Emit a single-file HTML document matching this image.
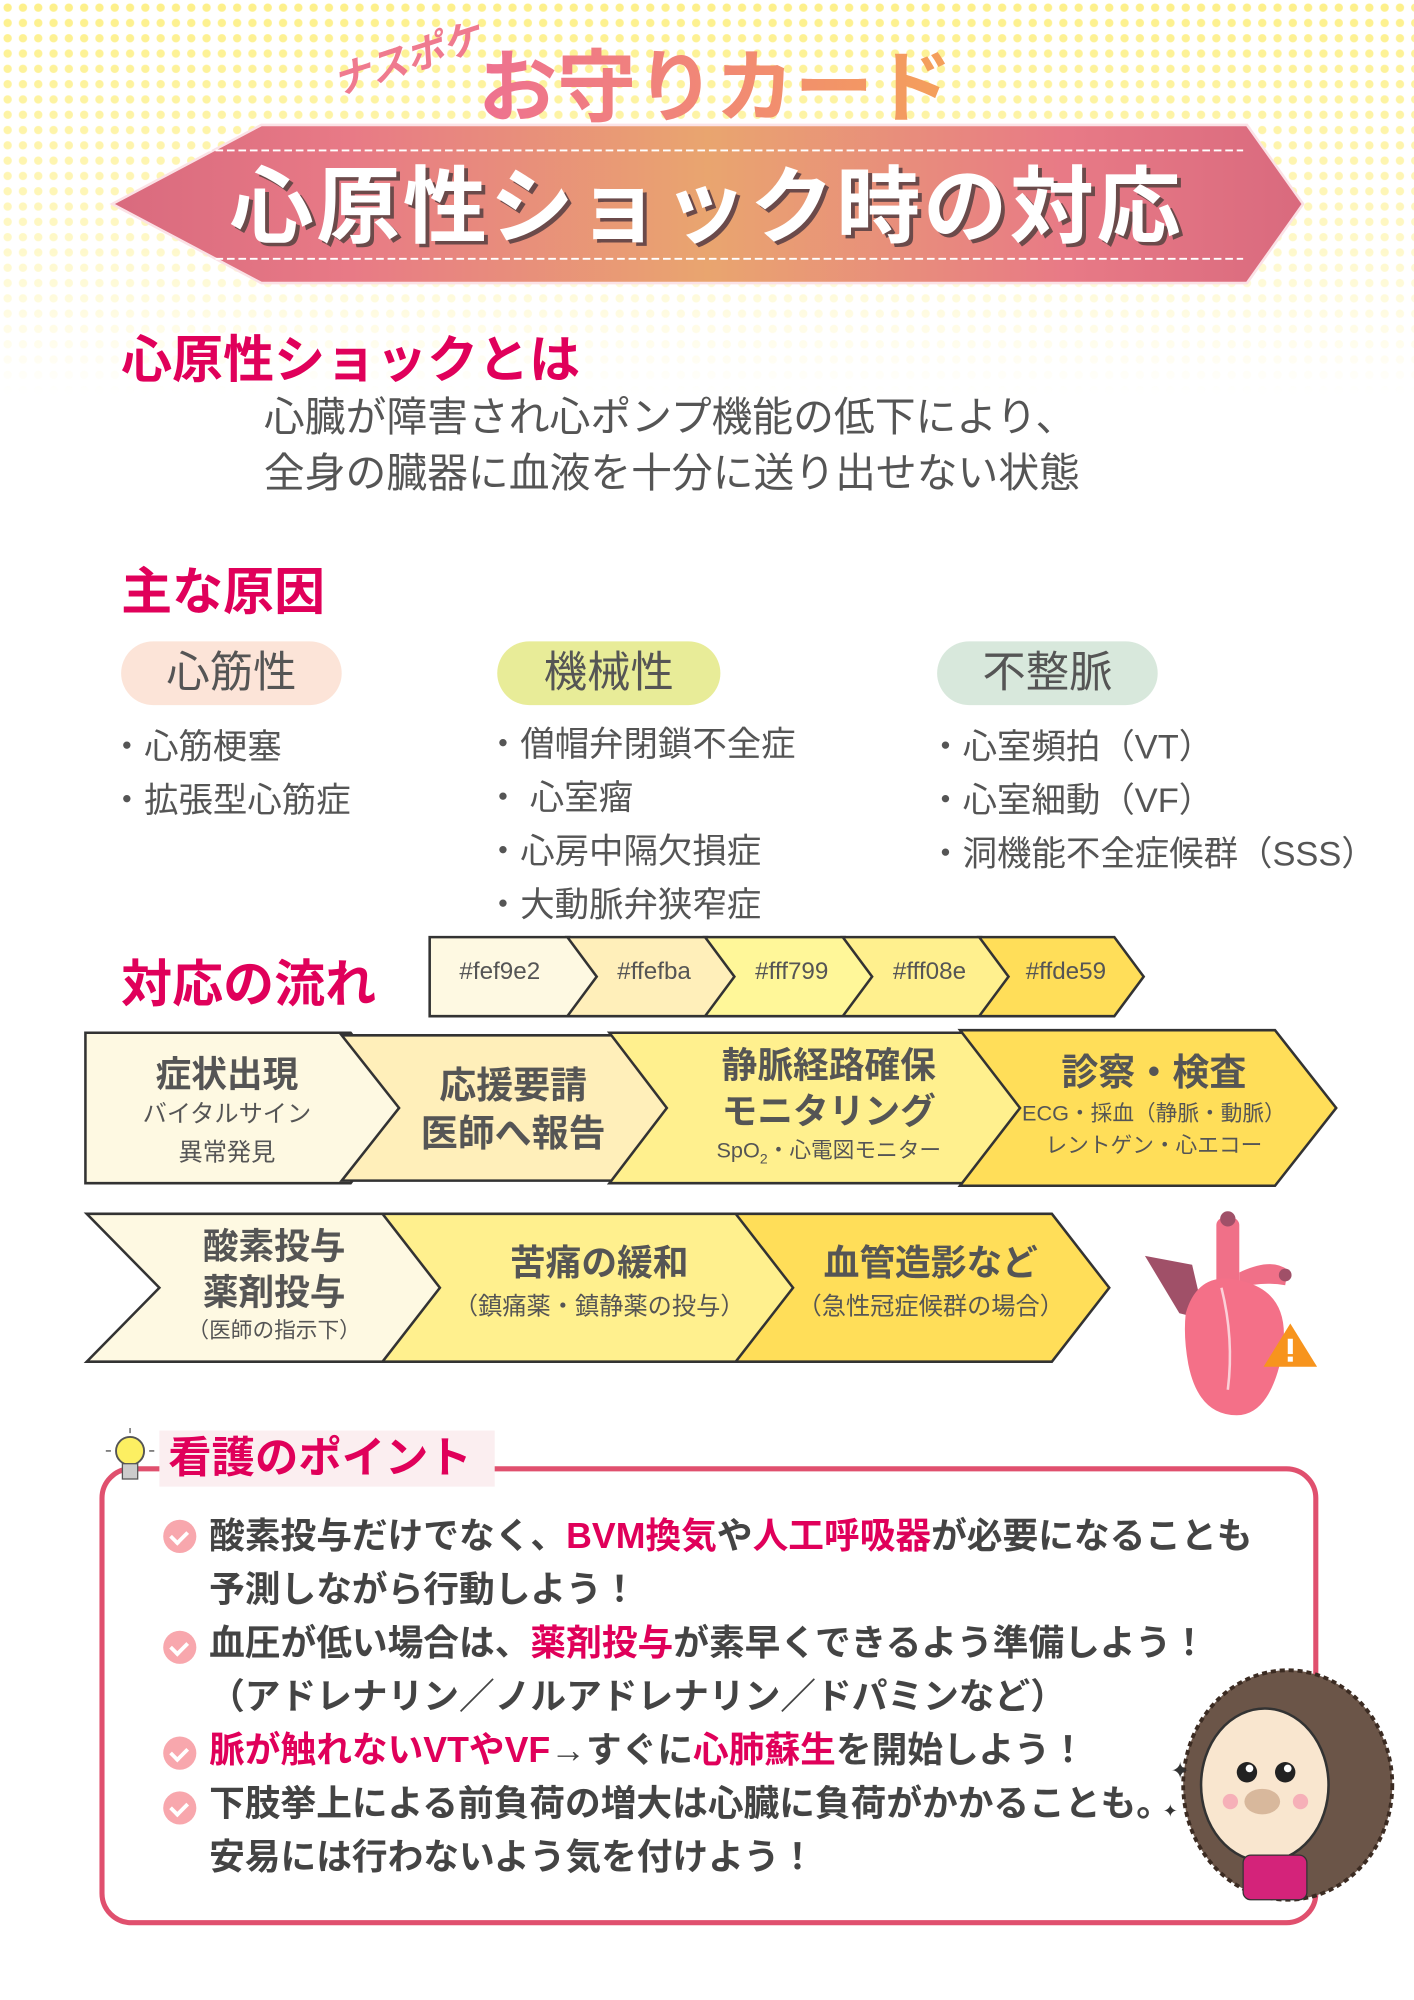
<!DOCTYPE html>
<html><head><meta charset="utf-8"><style>
html,body{margin:0;padding:0;}
body{width:1414px;height:2000px;overflow:hidden;background:#fff;position:relative;font-family:"Liberation Sans","Noto Sans CJK JP",sans-serif;}
#s{position:absolute;left:0;top:0;width:1109px;height:1568px;transform:scale(1.275);transform-origin:0 0;}
.a{position:absolute;white-space:nowrap;}
.dots{position:absolute;left:0;top:0;width:1109px;height:310px;background-image:radial-gradient(circle,#fdf08a 3px,transparent 3.5px);background-size:12px 12px;-webkit-mask-image:linear-gradient(#000 0%,rgba(0,0,0,.6) 50%,transparent 100%);mask-image:linear-gradient(#000 0%,rgba(0,0,0,.6) 50%,transparent 100%);}
.h{color:#e0005a;font-weight:bold;}
.g{color:#555;}
.pill{position:absolute;height:50px;border-radius:25px;font-size:34px;color:#555;text-align:center;line-height:50px;}
.li{font-size:27px;color:#555;}
.pk{color:#e0005a;}
.np{font-size:28px;font-weight:bold;color:#444;}
.chk{position:absolute;width:26px;height:26px;border-radius:50%;background:#f8a7ad;}
.chk:after{content:"";position:absolute;left:8px;top:6px;width:6px;height:10px;border:solid #fff;border-width:0 3px 3px 0;transform:rotate(45deg);}
.ct{font-weight:bold;color:#555;text-align:center;}
</style></head><body><div id="s">
<div class="dots"></div>

<div class="a" style="left:258px;top:22px;font-size:30px;font-weight:bold;color:#ef7a8f;transform:rotate(-18deg);font-style:italic;">ナスポケ</div>
<div class="a" style="left:375px;top:32px;font-size:62px;font-weight:bold;line-height:76px;background:linear-gradient(90deg,#ee7190,#f4a05a);-webkit-background-clip:text;background-clip:text;color:transparent;">お守りカード</div>

<svg class="a" style="left:0;top:0" width="1109" height="240">
<defs><linearGradient id="bg" x1="0" x2="1"><stop offset="0" stop-color="#d96a7e"/><stop offset=".2" stop-color="#e87a86"/><stop offset=".5" stop-color="#e9a56f"/><stop offset=".8" stop-color="#e87a86"/><stop offset="1" stop-color="#d96a7e"/></linearGradient></defs>
<polygon points="88,160 205,98 978,98 1022,160 978,222 205,222" fill="url(#bg)" stroke="#fbe2e6" stroke-width="2"/>
<line x1="160" y1="118" x2="975" y2="118" stroke="#fff" stroke-width="1.5" stroke-dasharray="6,3"/>
<line x1="160" y1="203" x2="975" y2="203" stroke="#fff" stroke-width="1.5" stroke-dasharray="6,3"/>
</svg>
<div class="a" style="left:180px;top:122px;font-size:66px;font-weight:bold;color:#fff;line-height:80px;letter-spacing:2px;text-shadow:3px 3px 0 #6b4a4a;">心原性ショック時の対応</div>

<div class="a h" style="left:95px;top:250px;font-size:40px;">心原性ショックとは</div>
<div class="a g" style="left:207px;top:305px;font-size:32px;line-height:44px;">心臓が障害され心ポンプ機能の低下により、<br>全身の臓器に血液を十分に送り出せない状態</div>

<div class="a h" style="left:95px;top:432px;font-size:40px;">主な原因</div>
<div class="pill" style="left:95px;top:503px;width:173px;background:#fce4d8;">心筋性</div>
<div class="pill" style="left:390px;top:503px;width:175px;background:#e8ec98;">機械性</div>
<div class="pill" style="left:735px;top:503px;width:173px;background:#d8e8dc;">不整脈</div>
<div class="a li" style="left:86px;top:565px;line-height:42px;">・心筋梗塞<br>・拡張型心筋症</div>
<div class="a li" style="left:381px;top:563px;line-height:42px;">・僧帽弁閉鎖不全症<br>・ 心室瘤<br>・心房中隔欠損症<br>・大動脈弁狭窄症</div>
<div class="a li" style="left:728px;top:565px;line-height:42px;">・心室頻拍（VT）<br>・心室細動（VF）<br>・洞機能不全症候群（SSS）</div>

<div class="a h" style="left:95px;top:740px;font-size:40px;">対応の流れ</div>

<svg class="a" style="left:0;top:0" width="1109" height="1120">
<g stroke="#333" stroke-width="2">
<polygon points="337,735 447,735 470,766 447,797 337,797" fill="#fef9e2"/>
<polygon points="445,735 555,735 578,766 555,797 445,797 468,766" fill="#ffefba"/>
<polygon points="553,735 663,735 686,766 663,797 553,797 576,766" fill="#fff799"/>
<polygon points="661,735 770,735 793,766 770,797 661,797 684,766" fill="#fff08e"/>
<polygon points="768,735 874,735 897,766 874,797 768,797 791,766" fill="#ffde59"/>

<polygon points="67,810 275,810 320,869 275,928 67,928" fill="#fef9e2"/>
<polygon points="268,812 480,812 525,869 480,926 268,926 313,869" fill="#ffefba"/>
<polygon points="478,810 760,810 805,869 760,928 478,928 523,869" fill="#fff08e"/>
<polygon points="753,808 1000,808 1048,869 1000,930 753,930 800,869" fill="#ffde59"/>

<polygon points="68,952 308,952 352,1010 308,1068 68,1068 125,1010" fill="#fef9e2"/>
<polygon points="300,952 580,952 625,1010 580,1068 300,1068 345,1010" fill="#fff08e"/>
<polygon points="577,952 825,952 870,1010 825,1068 577,1068 622,1010" fill="#ffde59"/>
</g>
<g>
<path d="M898,985 L935,992 L945,1035 L925,1030 Z" fill="#a05068"/>
<rect x="954" y="955" width="18" height="70" rx="6" fill="#f07088"/>
<circle cx="963" cy="956" r="6" fill="#a05068"/>
<path d="M972,998 q25,-12 38,-2 l-2,12 q-18,-3 -36,2 z" fill="#f07088"/>
<circle cx="1008" cy="1000" r="5" fill="#a05068"/>
<path d="M930,1030 q10,-35 45,-25 q40,10 30,60 q-10,45 -35,45 q-30,0 -38,-40 q-4,-22 -2,-40z" fill="#f47088"/>
<path d="M958,1010 q10,40 5,80" stroke="#fbd0d8" stroke-width="2" fill="none"/>
<polygon points="1012,1038 1033,1072 991,1072" fill="#f7941d"/>
<rect x="1010" y="1050" width="4" height="12" fill="#fff"/><rect x="1010" y="1064" width="4" height="4" fill="#fff"/>
</g>
</svg>
<div class="a" style="left:337px;top:752px;width:110px;text-align:center;font-size:19px;color:#555;">#fef9e2</div>
<div class="a" style="left:458px;top:752px;width:110px;text-align:center;font-size:19px;color:#555;">#ffefba</div>
<div class="a" style="left:566px;top:752px;width:110px;text-align:center;font-size:19px;color:#555;">#fff799</div>
<div class="a" style="left:674px;top:752px;width:110px;text-align:center;font-size:19px;color:#555;">#fff08e</div>
<div class="a" style="left:781px;top:752px;width:110px;text-align:center;font-size:19px;color:#555;">#ffde59</div>

<div class="a ct" style="left:78px;top:826px;width:200px;font-size:28px;line-height:34px;">症状出現<div style="font-size:19px;font-weight:normal;line-height:30px;">バイタルサイン<br>異常発見</div></div>
<div class="a ct" style="left:305px;top:833px;width:195px;font-size:29px;line-height:38px;">応援要請<br>医師へ報告</div>
<div class="a ct" style="left:540px;top:818px;width:220px;font-size:28px;line-height:36px;">静脈経路確保<br>モニタリング<div style="font-size:17px;font-weight:normal;line-height:26px;">SpO<sub style="font-size:11px">2</sub>・心電図モニター</div></div>
<div class="a ct" style="left:800px;top:823px;width:210px;font-size:29px;line-height:38px;">診察・検査<div style="font-size:17px;font-weight:normal;line-height:25px;">ECG・採血（静脈・動脈）<br>レントゲン・心エコー</div></div>

<div class="a ct" style="left:115px;top:960px;width:200px;font-size:28px;line-height:36px;">酸素投与<br>薬剤投与<div style="font-size:17px;font-weight:normal;line-height:24px;">（医師の指示下）</div></div>
<div class="a ct" style="left:340px;top:973px;width:260px;font-size:28px;line-height:36px;">苦痛の緩和<div style="font-size:19px;font-weight:normal;line-height:34px;">（鎮痛薬・鎮静薬の投与）</div></div>
<div class="a ct" style="left:610px;top:973px;width:240px;font-size:28px;line-height:36px;">血管造影など<div style="font-size:19px;font-weight:normal;line-height:34px;">（急性冠症候群の場合）</div></div>

<div class="a" style="left:78px;top:1150px;width:948px;height:352px;border:4px solid #e0506e;border-radius:25px;"></div>
<div class="a" style="left:125px;top:1122px;width:263px;height:44px;background:#fbeef0;"></div>
<div class="a h" style="left:132px;top:1122px;font-size:34px;line-height:44px;">看護のポイント</div>
<svg class="a" style="left:82px;top:1118px" width="45" height="50"><circle cx="20" cy="20" r="11" fill="#fcef62" stroke="#555" stroke-width="1.5"/><rect x="14" y="30" width="12" height="12" fill="#ccc" stroke="#555"/><line x1="20" y1="2" x2="20" y2="6" stroke="#555"/><line x1="5" y1="20" x2="1" y2="20" stroke="#555"/><line x1="35" y1="20" x2="39" y2="20" stroke="#555"/></svg>

<div class="chk" style="left:128px;top:1192px;"></div>
<div class="chk" style="left:128px;top:1279px;"></div>
<div class="chk" style="left:128px;top:1362px;"></div>
<div class="chk" style="left:128px;top:1405px;"></div>
<div class="a np" style="left:164px;top:1184px;line-height:42px;">酸素投与だけでなく、<span class="pk">BVM換気</span>や<span class="pk">人工呼吸器</span>が必要になることも<br>予測しながら行動しよう！<br>血圧が低い場合は、<span class="pk">薬剤投与</span>が素早くできるよう準備しよう！<br>（アドレナリン／ノルアドレナリン／ドパミンなど）<br><span class="pk">脈が触れないVTやVF</span>→すぐに<span class="pk">心肺蘇生</span>を開始しよう！<br>下肢挙上による前負荷の増大は心臓に負荷がかかることも。<br>安易には行わないよう気を付けよう！</div>

<svg class="a" style="left:910px;top:1305px" width="195" height="200">
<ellipse cx="100" cy="95" rx="82" ry="90" fill="#6b5548" stroke="#3b2b22" stroke-width="3" stroke-dasharray="4,3"/>
<ellipse cx="82" cy="95" rx="50" ry="60" fill="#f9e6cf" stroke="#333" stroke-width="2"/>
<circle cx="68" cy="85" r="8" fill="#222"/><circle cx="98" cy="85" r="8" fill="#222"/>
<circle cx="70" cy="82" r="3" fill="#fff"/><circle cx="100" cy="82" r="3" fill="#fff"/>
<ellipse cx="80" cy="108" rx="14" ry="10" fill="#d8b89c"/>
<circle cx="55" cy="108" r="6" fill="#f6b0b8"/><circle cx="110" cy="108" r="6" fill="#f6b0b8"/>
<rect x="65" y="150" width="50" height="35" rx="6" fill="#d4237a" stroke="#333"/>
<text x="8" y="90" font-size="18" fill="#333">✦</text><text x="2" y="120" font-size="14" fill="#333">✦</text>
</svg>
</div></body></html>
